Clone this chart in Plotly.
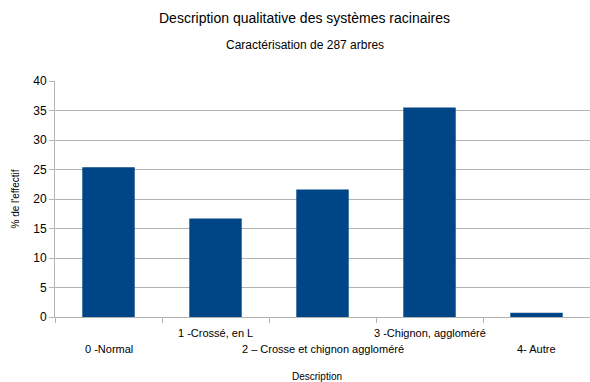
import plotly.graph_objects as go

categories = ["0 -Normal", "1 -Crossé, en L", "2 – Crosse et chignon aggloméré",
              "3 -Chignon, aggloméré", "4- Autre"]
values = [25.4, 16.7, 21.6, 35.5, 0.7]
label_row = [1, 0, 1, 0, 1]  # 0 = upper row, 1 = lower row
y_ticks = [0, 5, 10, 15, 20, 25, 30, 35, 40]

FONT = "Liberation Sans, Arial, sans-serif"
GRID = "#b3b3b3"

xpos = list(range(len(categories)))

fig = go.Figure(go.Bar(x=xpos, y=values, marker=dict(color="#004586", line=dict(width=0)),
                       width=0.49, showlegend=False))

for i, (c, r) in enumerate(zip(categories, label_row)):
    fig.add_annotation(x=i, xref="x", y=0, yref="paper", yanchor="middle",
                       yshift=-16 - 16 * r, text=c, showarrow=False,
                       font=dict(family=FONT, size=11, color="#000000"))

fig.update_layout(
    width=590, height=382,
    margin=dict(l=55, r=0, t=81, b=65),
    paper_bgcolor="white", plot_bgcolor="white",
    font=dict(family=FONT, size=11, color="#000000"),
)
fig.add_annotation(text="Description qualitative des systèmes racinaires", xref="paper", yref="paper",
                   x=0.467, y=1, yshift=81 - 18, xanchor="center", yanchor="middle",
                   showarrow=False, font=dict(family=FONT, size=14, color="#000000"))
fig.add_annotation(text="Caractérisation de 287 arbres", xref="paper", yref="paper",
                   x=0.467, y=1, yshift=81 - 45, xanchor="center", yanchor="middle",
                   showarrow=False, font=dict(family=FONT, size=12, color="#000000"))
fig.add_annotation(text="Description", xref="paper", yref="paper",
                   x=0.49, y=0, yshift=-59, xanchor="center", yanchor="middle",
                   showarrow=False, font=dict(family=FONT, size=10, color="#000000"))

fig.update_xaxes(
    range=[-0.5, 4.5],
    tickmode="array", tickvals=[x - 0.5 for x in xpos], ticktext=[""] * len(xpos),
    ticks="outside", ticklen=5, tickcolor=GRID,
    showline=True, linecolor=GRID, linewidth=1,
    showgrid=False, zeroline=False,
)
fig.update_yaxes(
    range=[0, 40], tickmode="array", tickvals=y_ticks,
    ticks="outside", ticklen=5, tickcolor=GRID,
    showline=True, linecolor=GRID, linewidth=1,
    showgrid=True, gridcolor=GRID, gridwidth=1, zeroline=False,
    tickfont=dict(size=12),
    title=dict(text="% de l'effectif", font=dict(size=10), standoff=11),
)

fig.write_html("out.html")
